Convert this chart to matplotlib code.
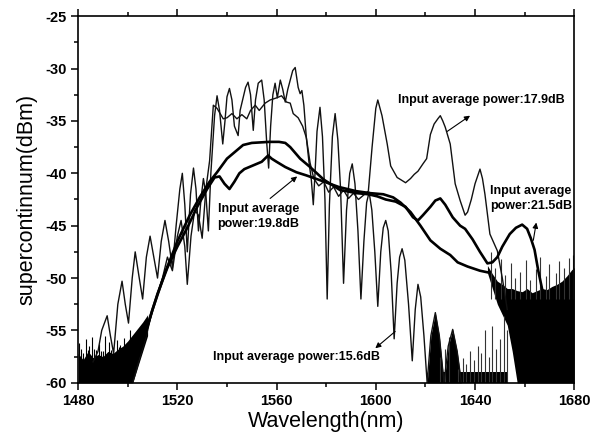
import numpy as np
import matplotlib
matplotlib.use("Agg")
import matplotlib.pyplot as plt

plt.rcParams['font.family'] = ['Liberation Sans', 'DejaVu Sans']
plt.rcParams['axes.unicode_minus'] = False

# 15.6 dB - thin trace with deep fringes
b_x = [1486, 1488, 1489.5, 1491.7, 1493, 1494.3, 1496, 1497.7, 1499, 1500.3, 1501.8, 1503, 1504.5, 1506,
       1507.5, 1509, 1510.5, 1512, 1513.5, 1515, 1516.5, 1518, 1519.5, 1521, 1522, 1523, 1524, 1525.3,
       1526.5, 1527.5, 1528.5, 1529.5, 1530.5, 1531.5, 1532.5, 1533.5, 1535, 1536, 1537, 1538.3, 1539.2,
       1540, 1541, 1542, 1543, 1544.5, 1545.3, 1546, 1547.5, 1548.5, 1549.5, 1550.6, 1551.5, 1552.6,
       1554, 1555, 1556, 1556.8, 1557.6, 1558.5, 1559.4, 1560.3, 1561.5, 1562.5, 1563.5, 1564.5, 1565.5,
       1566.5, 1567.5, 1568.7, 1569.5, 1570.2, 1571, 1572, 1573, 1574, 1574.8, 1575.5, 1576.3, 1577.5,
       1578.5, 1579.5, 1580.4, 1581.3, 1582.5, 1583.6, 1584.7, 1585.8, 1587, 1588.2, 1589.5, 1590.5,
       1591.6, 1592.8, 1594, 1595.2, 1596.3, 1597.3, 1598.4, 1599.6, 1600.8, 1602, 1603, 1604, 1605,
       1606.2, 1607.4, 1608.6, 1609.6, 1610.6, 1611.7, 1613.2, 1614.7, 1615.9, 1617, 1618.1, 1619.4,
       1620.7, 1622.2, 1624, 1625.6, 1627.5, 1629.2, 1631, 1632.8, 1634.5]
b_y = [-58.0, -57.0, -55.0, -53.6, -55.5, -57.2, -52.5, -50.3, -52.5, -54.3, -50.0, -47.5, -49.8, -52.0,
       -48.0, -46.0, -48.0, -50.0, -46.5, -44.5, -46.5, -49.0, -45.0, -41.5, -40.0, -43.0, -47.5, -42.0,
       -39.5, -41.5, -45.5, -42.5, -40.5, -42.0, -45.5, -40.0, -34.5, -32.6, -34.0, -37.2, -35.0,
       -32.7, -31.9, -33.0, -35.5, -36.4, -34.0, -33.3, -31.8, -31.3, -32.5, -35.9, -33.0, -31.4,
       -31.1, -33.0, -37.0, -39.5, -35.5, -32.5, -31.4, -32.8, -31.1, -32.0, -33.2, -32.0, -31.1,
       -30.2, -29.9, -31.8, -32.4, -32.1, -33.5, -36.6, -38.8, -40.6, -43.0, -40.0, -36.0, -33.7,
       -36.5, -42.5, -52.0, -43.0, -36.5, -34.3, -36.8, -41.5, -50.5, -43.5, -40.0, -39.1,
       -41.0, -45.5, -52.0, -46.5, -42.8, -41.8, -43.5, -47.5, -52.7, -47.5, -45.2, -44.5, -45.5,
       -49.5, -55.8, -50.5, -48.0, -47.2, -48.3, -52.5, -57.9, -53.0, -50.6, -51.8, -55.5,
       -60.0, -55.5, -53.3, -55.5, -60.0, -56.5, -54.9, -57.0, -60.0]

# 17.9 dB - thin trace
a_x = [1502, 1505, 1508, 1510, 1512, 1514, 1516, 1518, 1520, 1521.5, 1523, 1524, 1525.5, 1527, 1528.5,
       1530, 1531.5, 1533, 1534.5, 1536, 1537, 1538.5, 1540, 1542, 1544, 1546, 1548, 1549.5, 1551.4,
       1553, 1555.4, 1557.4, 1560, 1562, 1564, 1565.5, 1566.7, 1568.7, 1570.5, 1572, 1573.5, 1575,
       1577, 1579, 1581, 1583, 1585, 1587, 1589, 1591, 1593, 1595, 1597, 1598.5, 1600, 1600.8,
       1602.5, 1604.6, 1606, 1608.6, 1610, 1612, 1614, 1615.5, 1617, 1619, 1620.5, 1622, 1623.5,
       1625, 1626, 1627, 1628, 1630, 1632, 1634, 1636, 1637, 1638.5, 1640, 1642, 1643, 1644, 1646,
       1649, 1651, 1653]
a_y = [-60.0, -57.5, -55.0, -53.0, -51.5, -50.0, -48.0, -49.3, -46.0, -44.5, -47.0, -50.6, -46.0, -43.5,
       -44.0, -46.2, -41.5, -38.8, -33.5, -33.8, -34.2, -34.8, -34.7, -34.3, -34.8, -34.4, -34.8, -34.0,
       -33.5, -34.0, -33.3, -33.0, -32.8, -32.6, -33.2, -33.3, -34.3, -34.7, -35.5, -36.6, -39.0, -40.5,
       -41.2, -40.8, -41.8, -41.3, -42.2, -41.6, -42.4, -41.9, -42.5, -42.1, -41.7, -37.5, -33.8, -33.0,
       -34.5, -37.2, -39.3, -40.4, -40.6, -40.9, -40.5, -40.1, -39.8, -39.1, -38.6, -36.3, -35.3,
       -34.8, -34.5, -35.0, -35.6, -37.2, -41.0, -42.6, -44.0, -43.7, -42.5, -41.0, -39.6, -40.5, -42.0, -45.8,
       -47.4, -50.0, -53.0]

# 21.5 dB - thick smooth trace with hump at 1660 nm
c_x = [1500, 1505, 1510, 1515, 1520, 1525, 1529, 1533, 1536, 1540, 1543, 1546.5, 1550, 1557, 1561,
       1563.5, 1565.5, 1569.5, 1573.5, 1579, 1585.6, 1592.5, 1597, 1600.6, 1604, 1608, 1612, 1615,
       1617, 1619, 1622, 1624, 1626, 1628, 1631, 1634, 1636, 1639, 1642, 1645, 1647, 1649, 1651,
       1654, 1656.5, 1659, 1661, 1662.5, 1664, 1665.5, 1667, 1668.5]
c_y = [-60.0, -57.0, -53.0, -49.5, -46.5, -44.0, -42.3, -40.8, -39.9, -38.6, -38.0, -37.3, -37.1, -37.0,
       -37.0, -37.1, -37.5, -38.6, -39.4, -40.6, -41.6, -41.9, -42.0, -42.2, -42.5, -42.7, -43.2, -44.2,
       -44.5, -44.0, -43.2, -42.6, -42.4, -43.0, -44.2, -45.0, -45.3, -46.3, -47.5, -48.6, -48.5, -48.0,
       -47.0, -45.8, -45.2, -44.9, -45.3, -46.2, -47.3, -49.3, -51.0, -52.5]

# 19.8 dB - thick trace
d_x = [1500, 1504, 1508, 1512, 1516, 1520, 1524, 1528, 1532, 1535, 1537, 1539, 1541, 1543, 1545, 1547,
       1549, 1552, 1554, 1556.6, 1558, 1560, 1563.5, 1568, 1572, 1578, 1585, 1592, 1598, 1603, 1607,
       1610, 1614, 1618, 1622, 1626, 1630, 1633, 1637, 1642, 1646]
d_y = [-60.0, -57.5, -54.5, -51.5, -49.0, -47.0, -45.2, -43.2, -41.5, -40.4, -40.3, -41.0, -41.5, -40.8,
       -40.0, -39.6, -39.4, -39.1, -38.9, -38.3, -38.6, -38.9, -39.4, -39.9, -40.2, -40.7, -41.3, -41.7,
       -41.9, -42.0, -42.3, -42.8, -43.7, -45.0, -46.4, -47.2, -47.8, -48.5, -48.9, -49.3, -49.5]

# noise floor, short wavelength side
nl_x = [1480, 1482, 1484, 1486, 1488, 1490, 1492, 1494, 1496, 1498, 1500, 1502, 1504, 1506, 1508]
nl_top = [-57.2, -57.8, -57.0, -57.6, -57.3, -57.5, -57.0, -57.2, -56.8, -56.5, -56.0, -55.4, -54.8, -54.2, -53.5]
nl_bot = [-60, -60, -60, -60, -60, -60, -60, -60, -60, -60, -60, -60, -58.5, -57.0, -55.5]
nl_spk_x = [1480.5, 1481.2, 1481.8, 1483, 1483.8, 1484.5, 1485.5, 1486.3, 1487, 1488.5, 1489.3, 1490,
            1491, 1492.5, 1493.2, 1494, 1495.5, 1496.3, 1497, 1498.5, 1499.5, 1501]
nl_spk_y = [-56.2, -56.8, -57.2, -55.8, -56.9, -56.5, -55.6, -56.8, -56.9, -56.3, -57.0, -57.0, -55.5,
            -56.1, -56.9, -56.7, -55.9, -56.6, -56.4, -55.7, -56.2, -55.0]

# noise floor, long wavelength side
nr_x = [1645, 1647, 1649, 1651, 1653, 1655, 1657, 1659, 1661, 1663, 1665, 1667, 1669, 1671, 1673, 1675,
        1677, 1679, 1680]
nr_top = [-48.8, -49.6, -50.3, -50.6, -51.0, -51.0, -51.2, -51.3, -51.0, -51.4, -51.2, -51.0, -51.1, -50.8,
          -50.6, -50.3, -49.8, -49.2, -49.0]
nr_bot = [-49.5, -51.0, -52.5, -53.5, -54.5, -57.0, -60, -60, -60, -60, -60, -60, -60, -60, -60, -60,
          -60, -60, -60]
nm_spk_x = [1626, 1628, 1629.5, 1633, 1635, 1636.5, 1638, 1639.5, 1641, 1642.5, 1644, 1645.5, 1647,
            1648.5, 1650, 1651.5, 1653]
nm_spk_y = [-57.5, -56.8, -55.6, -58.7, -57.6, -58.2, -57.0, -57.8, -56.5, -57.2, -55.0, -57.5, -54.6,
            -56.8, -55.8, -53.6, -55.0]
nr_spk_x = [1646.5, 1648, 1650.5, 1652, 1654.5, 1656, 1658, 1660.5, 1662, 1664.5, 1666, 1668.5, 1670,
            1672.5, 1674, 1676, 1678, 1679.5]
nr_spk_y = [-47.5, -49.0, -48.2, -49.7, -48.6, -50.0, -49.4, -48.3, -50.2, -49.1, -48.0, -49.8, -48.7,
            -49.5, -48.4, -49.0, -48.1, -47.8]

fig = plt.figure(figsize=(5.92, 4.37), dpi=100)
ax = fig.add_axes([0.132, 0.124, 0.838, 0.839])

ax.fill_between(nl_x, nl_bot, nl_top, color='black', lw=0)
ax.vlines(nl_spk_x, -60, nl_spk_y, color='black', lw=0.8)
ax.fill_between(nr_x, nr_bot, nr_top, color='black', lw=0)
ax.vlines(nm_spk_x, -60, nm_spk_y, color='#333333', lw=0.8)
ax.vlines(nr_spk_x, -52, nr_spk_y, color='#333333', lw=0.8)
ax.fill_between(nm_spk_x, -60, -59.0, color='black', lw=0)

bx = np.array(b_x)
by = np.array(b_y)
mask = bx >= 1620
ax.fill_between(bx[mask], -60, by[mask], color='black', lw=0)

ax.plot(b_x, b_y, color='#111111', lw=1.0)
ax.plot(a_x, a_y, color='#111111', lw=1.0)
ax.plot(c_x, c_y, color='black', lw=1.9)
ax.plot(d_x, d_y, color='black', lw=1.9)

ax.set_xlim(1480, 1680)
ax.set_ylim(-60, -25)
ax.set_xticks(np.arange(1480, 1681, 40))
ax.set_xticks(np.arange(1500, 1680, 40), minor=True)
ax.set_yticks(np.arange(-60, -24, 5))
ax.set_yticks(np.arange(-57.5, -25, 5), minor=True)
ax.tick_params(which='both', direction='out', top=True, right=False, width=1.1)
ax.tick_params(which='major', length=5, labelsize=10.5, pad=3)
ax.tick_params(which='minor', length=3)
for lab in ax.get_xticklabels() + ax.get_yticklabels():
    lab.set_fontweight('bold')
for s in ax.spines.values():
    s.set_linewidth(1.2)

ax.set_xlabel('Wavelength(nm)', fontsize=15.5, labelpad=2)
ax.set_ylabel('supercontinnum(dBm)', fontsize=15.5, labelpad=6)

arrow = dict(arrowstyle='-|>', lw=0.8, color='black', mutation_scale=8, shrinkA=0, shrinkB=0)
fs = 9
ax.text(1609, -33.0, 'Input average power:17.9dB', fontsize=fs, fontweight='bold', va='center', ha='left')
ax.annotate('', xy=(1638, -34.5), xytext=(1628.8, -36.0), arrowprops=arrow)
ax.text(1646.1, -42.4, 'Input average\npower:21.5dB', fontsize=fs, fontweight='bold', va='center',
        ha='left', linespacing=1.3)
ax.annotate('', xy=(1664.7, -44.7), xytext=(1663.5, -46.4), arrowprops=arrow)
ax.text(1552.6, -44.1, 'Input average\npower:19.8dB', fontsize=fs, fontweight='bold', va='center',
        ha='center', linespacing=1.3)
ax.annotate('', xy=(1568.3, -40.3), xytext=(1557.4, -42.4), arrowprops=arrow)
ax.text(1534.4, -57.5, 'Input average power:15.6dB', fontsize=fs, fontweight='bold', va='center', ha='left')
ax.annotate('', xy=(1599.8, -56.7), xytext=(1607.8, -55.1), arrowprops=arrow)

fig.savefig('out.png', dpi=100)
